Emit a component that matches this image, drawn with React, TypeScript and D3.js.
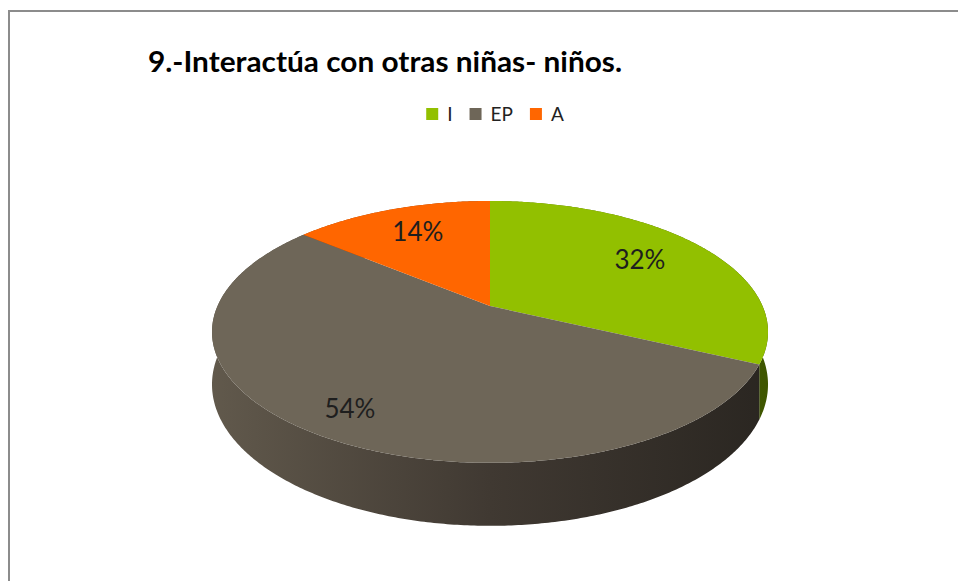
import React, { useMemo } from "react";
import * as d3 from "d3";

// chart data
const categories = ["I", "EP", "A"];
const values = [32, 54, 14];
const sliceColors = ["#92C000", "#6E6658", "#FF6600"];
const titleText = "9.-Interactúa con otras niñas- niños.";

const W = 958;
const H = 581;

// 3d pie geometry (perspective squeeze, back is smaller than front)
const CX = 490;
const CY = 306;
const RX = 272.5;
const RY = 125.8;
const PERSP = 0.198;
const DEPTH = 50.5;

function project(theta: number, r: number, drop: number): [number, number] {
  const x = r * Math.sin(theta);
  const z = r * Math.cos(theta);
  const w = 1 + PERSP * z;
  return [CX + (RX * x) / w, CY - (RY * z) / w + drop / w];
}

function arcPoints(a0: number, a1: number, drop: number) {
  const n = Math.max(8, Math.ceil(Math.abs(a1 - a0) / 0.01));
  const pts: [number, number][] = [];
  for (let i = 0; i <= n; i++) {
    pts.push(project(a0 + ((a1 - a0) * i) / n, 1, drop));
  }
  return pts;
}

function measure(text: string, font: string) {
  const c = document.createElement("canvas").getContext("2d");
  if (!c) return text.length * 10;
  c.font = font;
  return c.measureText(text).width;
}

export default function App() {
  const arcs = useMemo(
    () => d3.pie<number>().sort(null).value((d) => d)(values),
    []
  );
  const color = d3.scaleOrdinal<string, string>().domain(categories).range(sliceColors);
  const line = d3.line();
  const fmt = d3.format(".0%");
  const total = d3.sum(values);

  // legend layout, centred over the pie
  const legendFont = "19px Lato";
  const sq = 12;
  const items = categories.map((c) => ({ c, tw: measure(c, legendFont) }));
  const legendW = d3.sum(items, (d) => sq + 9 + d.tw) + 17 * (items.length - 1);
  let lx = 495 - legendW / 2;
  const legend = items.map((d) => {
    const x = lx;
    lx += sq + 9 + d.tw + 17;
    return { ...d, x };
  });

  const sideFill = ["url(#side-green)", "url(#side-gray)", "url(#side-orange)"];

  return (
    <div style={{ position: "absolute", left: 0, top: 0 }}>
      <svg width={W} height={H} style={{ display: "block", background: "#fff" }}>
        <defs>
          <linearGradient id="side-gray" gradientUnits="userSpaceOnUse" x1={CX - RX * 1.02} x2={CX + RX * 1.02} y1={0} y2={0}>
            <stop offset="0%" stopColor="#61594C" />
            <stop offset="50%" stopColor="#403932" />
            <stop offset="100%" stopColor="#2A2621" />
          </linearGradient>
          <linearGradient id="side-green" gradientUnits="userSpaceOnUse" x1={CX} x2={CX + RX * 1.02} y1={0} y2={0}>
            <stop offset="0%" stopColor="#5E7D00" />
            <stop offset="100%" stopColor="#3E5500" />
          </linearGradient>
          <linearGradient id="side-orange" gradientUnits="userSpaceOnUse" x1={CX - RX} x2={CX} y1={0} y2={0}>
            <stop offset="0%" stopColor="#B34700" />
            <stop offset="100%" stopColor="#8A3700" />
          </linearGradient>
        </defs>

        {/* chart frame, runs off the right and bottom */}
        <rect x={9} y={11} width={W + 20} height={H + 20} fill="none" stroke="#8C8C8C" strokeWidth={2} />

        <text
          x={148}
          y={72}
          textLength={474}
          lengthAdjust="spacingAndGlyphs"
          style={{ font: "bold 29px Lato", fill: "#000" }}
        >
          {titleText}
        </text>

        {legend.map((d) => (
          <g key={d.c}>
            <rect x={d.x} y={108} width={sq} height={sq} fill={color(d.c)} />
            <text x={d.x + sq + 9} y={121} style={{ font: legendFont, fill: "#222" }}>
              {d.c}
            </text>
          </g>
        ))}

        {/* side walls */}
        {arcs.map((a, i) => {
          const top = arcPoints(a.startAngle, a.endAngle, 0);
          const bottom = arcPoints(a.endAngle, a.startAngle, DEPTH);
          return <path key={"s" + i} d={(line([...top, ...bottom]) || "") + "Z"} fill={sideFill[i]} />;
        })}

        {/* top faces */}
        {arcs.map((a, i) => {
          const pts: [number, number][] = [project(0, 0, 0), ...arcPoints(a.startAngle, a.endAngle, 0)];
          return <path key={"t" + i} d={(line(pts) || "") + "Z"} fill={color(categories[i])} />;
        })}

        {/* slice labels */}
        {arcs.map((a, i) => {
          const mid = (a.startAngle + a.endAngle) / 2;
          const r = 0.7 + 0.15 * Math.max(0, -Math.cos(mid));
          const [x, y] = project(mid, r, 0);
          const lift = 5 * Math.max(0, Math.cos(mid));
          return (
            <text
              key={"l" + i}
              x={x}
              y={y - lift}
              textAnchor="middle"
              dominantBaseline="central"
              style={{ font: "26px Lato", fill: "#1E1E1E" }}
            >
              {fmt(a.value / total)}
            </text>
          );
        })}
      </svg>
    </div>
  );
}
